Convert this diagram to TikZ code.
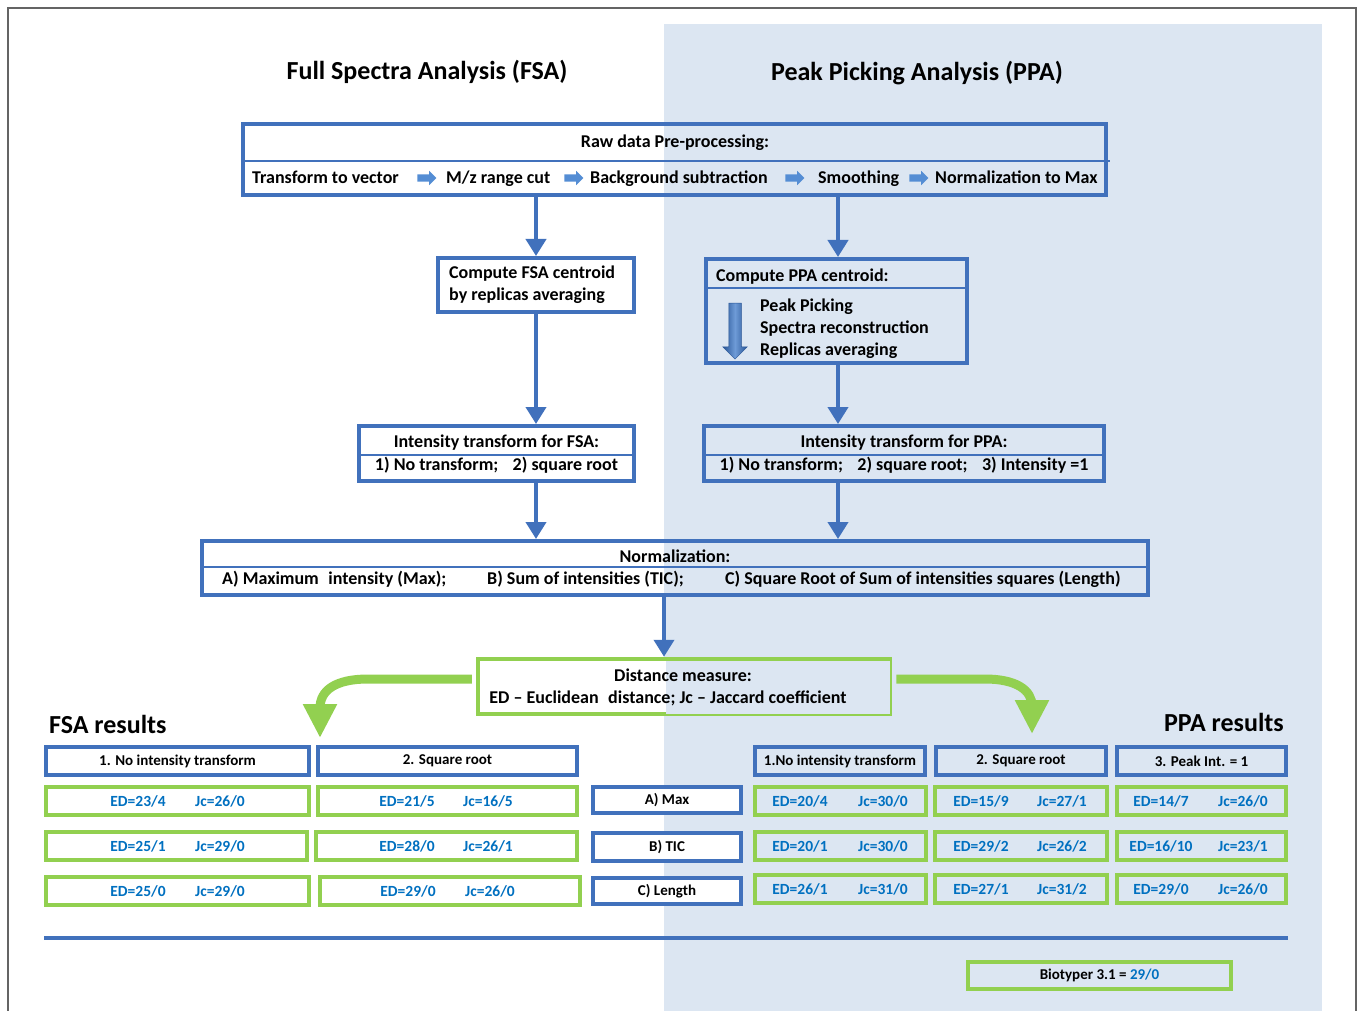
\documentclass[tikz,border=0pt]{standalone}
\usepackage{fontspec}
\setmainfont{Carlito}
\usetikzlibrary{arrows.meta,shapes.arrows,calc}
\definecolor{bxblue}{RGB}{65,113,188}
\definecolor{arblue}{RGB}{84,141,212}
\definecolor{grn}{RGB}{146,208,80}
\definecolor{resblue}{RGB}{0,112,192}
\definecolor{bgblue}{RGB}{220,230,242}
\definecolor{framegray}{RGB}{100,100,100}
\definecolor{darrtop}{RGB}{110,155,215}
\definecolor{darrbot}{RGB}{40,85,150}
\begin{document}
\begin{tikzpicture}[x=1pt,y=-1pt,
  bluebox/.style={draw=bxblue,line width=4pt,inner sep=0},
  whitebox/.style={draw=bxblue,line width=4pt,inner sep=0,fill=white},
  greenbox/.style={draw=grn,line width=4.5pt,inner sep=0},
  hdrbox/.style={draw=bxblue,line width=4.5pt,inner sep=0},
  divline/.style={draw=bxblue,line width=1.5pt},
  conn/.style={draw=bxblue,line width=4pt,-{Triangle[length=17pt,width=20pt]}},
  garr/.style={draw=grn,line width=9pt,-{Triangle[length=34pt,width=32pt]}},
  txt/.style={inner sep=0,font=\fontsize{18}{21}\selectfont\bfseries},
  ttl/.style={inner sep=0,font=\fontsize{26}{30}\selectfont\bfseries},
  hdr/.style={inner sep=0,font=\fontsize{15}{18}\selectfont\bfseries},
  res/.style={inner sep=0,font=\fontsize{15.5}{18}\selectfont\bfseries,text=resblue},
  rarr/.style={single arrow,fill=arblue,inner sep=3.5pt,minimum height=19pt,single arrow head extend=3.5pt,single arrow head indent=0pt}
]
\useasboundingbox (0,0) rectangle (1358,1011);
% background
\fill[bgblue] (664,24) rectangle (1322,1011);
\draw[framegray,line width=1.5pt] (8,1011) -- (8,8) -- (1356,8) -- (1356,1011);

% titles
\node[ttl,anchor=base] (tfsa) at (427,80) {Full Spectra Analysis (FSA)};
\node[ttl,anchor=base] (tppa) at (917,81) {Peak Picking Analysis (PPA)};

% raw data box
\node[bluebox,minimum width=863pt,minimum height=71pt] (raw) at (674.5,159.5) {};
\draw[divline] (243,161) -- (1110,161);
\node[txt,anchor=base] (rawt) at (675,148) {Raw data Pre-processing:};
\node[txt,anchor=base west] (r1) at (252,184) {Transform to vector};
\node[rarr] (a1) at (425,178) {};
\node[txt,anchor=base west] (r2) at (446,184) {M/z range cut};
\node[rarr] (a2) at (572,178) {};
\node[txt,anchor=base west] (r3) at (590,184) {Background subtraction};
\node[rarr] (a3) at (793,178) {};
\node[txt,anchor=base west] (r4) at (818,184) {Smoothing};
\node[rarr] (a4) at (917,178) {};
\node[txt,anchor=base west] (r5) at (935,184) {Normalization to Max};

% centroid boxes
\node[whitebox,minimum width=196pt,minimum height=54pt] (fsac) at (536,285) {};
\node[txt,anchor=base west] (fsac1) at (449,279) {Compute FSA centroid};
\node[txt,anchor=base west] (fsac2) at (449,301) {by replicas averaging};

\node[bluebox,minimum width=261pt,minimum height=104pt] (ppac) at (836.5,311) {};
\draw[divline] (706,288) -- (967,288);
\node[txt,anchor=base west] (ppac0) at (716,281) {Compute PPA centroid:};
\node[txt,anchor=base west] (ppac1) at (760,311) {Peak Picking};
\node[txt,anchor=base west] (ppac2) at (760,333) {Spectra reconstruction};
\node[txt,anchor=base west] (ppac3) at (760,355) {Replicas averaging};
\node[single arrow,shape border rotate=270,inner sep=6pt,minimum height=56pt,
      single arrow head extend=6pt,single arrow head indent=0pt,
      left color=darrbot,right color=darrbot,middle color=darrtop,draw=darrbot,line width=0.5pt] (darr) at (735,328) {};

% intensity boxes
\node[whitebox,minimum width=275pt,minimum height=55pt] (fsai) at (496.5,453.5) {};
\draw[divline] (359,455) -- (634,455);
\node[txt,anchor=base] (fsai1) at (496.5,447) {Intensity transform for FSA:};
\node[txt,anchor=base] (fsai2) at (496.5,470) {1) No transform;\hspace{0.8em}2) square root};

\node[bluebox,minimum width=400pt,minimum height=55pt] (ppai) at (904,453.5) {};
\draw[divline] (704,455) -- (1104,455);
\node[txt,anchor=base] (ppai1) at (904,447) {Intensity transform for PPA:};
\node[txt,anchor=base] (ppai2) at (904,470) {1) No transform;\hspace{0.8em}2) square root;\hspace{0.8em}3) Intensity =1};

% normalization
\node[bluebox,minimum width=946pt,minimum height=54pt] (norm) at (675,568) {};
\fill[white] (202,541) rectangle (664,595);
\draw[bluebox] (202,541) rectangle (1148,595);
\draw[divline] (202,567) -- (1148,567);
\node[txt,anchor=base] (normt) at (675,562) {Normalization:};
\node[txt,anchor=base west] (n1) at (222,584) {A) Maximum\hspace{0.3em} intensity (Max);};
\node[txt,anchor=base west] (n2) at (487,584) {B) Sum of intensities (TIC);};
\node[txt,anchor=base west] (n3) at (725,584) {C) Square Root of Sum of intensities squares (Length)};

% distance
\node[greenbox,fill=white,minimum width=412pt,minimum height=55pt] (dist) at (684,686.5) {};
\fill[bgblue] (666,661) rectangle (889.5,714);
\node[txt,anchor=base] (dist1) at (683,681) {Distance measure:};
\node[txt,anchor=base] (dist2) at (668,703) {ED -- Euclidean\hspace{0.3em} distance; Jc -- Jaccard coefficient};

% connectors
\coordinate (cl) at (536,0);
\coordinate (cr) at (838,0);
\coordinate (cm) at (664,0);
\draw[conn] (raw.south -| cl) -- (fsac.north -| cl);
\draw[conn] (raw.south -| cr) -- (ppac.north -| cr);
\draw[conn] (fsac.south -| cl) -- (fsai.north -| cl);
\draw[conn] (ppac.south -| cr) -- (ppai.north -| cr);
\draw[conn] (fsai.south -| cl) -- (norm.north -| cl);
\draw[conn] (ppai.south -| cr) -- (norm.north -| cr);
\draw[conn] (norm.south -| cm) -- (dist.north -| cm);

% green curved arrows
\coordinate (gl) at (320,738);
\coordinate (gr) at (1032,734);
\draw[garr] ($(dist.west)+(-4,-7.5)$) -- (368,679) .. controls (336,679) and (320,690) .. (320,708) -- (gl);
\draw[garr] ($(dist.east)+(4,-7.5)$) -- (985,679) .. controls (1016,679) and (1032,690) .. (1032,706) -- (gr);

% result titles
\node[ttl,anchor=base west] (fsar) at (49,733) {FSA results};
\node[ttl,anchor=base east] (ppar) at (1284,731) {PPA results};

% FSA table headers
\node[hdrbox,fill=white,minimum width=263pt,minimum height=28pt] (fh1) at (177.5,761) {};
\node[hdrbox,fill=white,minimum width=259pt,minimum height=28pt] (fh2) at (447.5,761) {};
\node[hdr] (fh1t) at (fh1) {1. No intensity transform};
\node[hdr] (fh2t) at (fh2) {2. Square root};

% FSA rows
\node[greenbox,fill=white,minimum width=263pt,minimum height=28pt] (f11) at (177.5,801) {};
\node[greenbox,fill=white,minimum width=259pt,minimum height=28pt] (f12) at (447.5,801) {};
\node[greenbox,fill=white,minimum width=261pt,minimum height=28pt] (f21) at (176.5,846) {};
\node[greenbox,fill=white,minimum width=261pt,minimum height=28pt] (f22) at (446.5,846) {};
\node[greenbox,fill=white,minimum width=263pt,minimum height=28pt] (f31) at (177.5,891) {};
\node[greenbox,fill=white,minimum width=260pt,minimum height=28pt] (f32) at (450,891) {};
\node[res] (f11a) at (138,801) {ED=23/4};
\node[res] (f11b) at (220,801) {Jc=26/0};
\node[res] (f12a) at (407,801) {ED=21/5};
\node[res] (f12b) at (488,801) {Jc=16/5};
\node[res] (f21a) at (138,846) {ED=25/1};
\node[res] (f21b) at (220,846) {Jc=29/0};
\node[res] (f22a) at (407,846) {ED=28/0};
\node[res] (f22b) at (488,846) {Jc=26/1};
\node[res] (f31a) at (138,891) {ED=25/0};
\node[res] (f31b) at (220,891) {Jc=29/0};
\node[res] (f32a) at (408,891) {ED=29/0};
\node[res] (f32b) at (490,891) {Jc=26/0};

% normalization labels
\node[hdrbox,fill=white,minimum width=148pt,minimum height=26pt] (la) at (667,800) {};
\node[hdrbox,fill=white,minimum width=148pt,minimum height=28pt] (lb) at (667,847) {};
\node[hdrbox,fill=white,minimum width=148pt,minimum height=26pt] (lc) at (667,891) {};
\node[hdr] (lat) at (la) {A) Max};
\node[hdr] (lbt) at (lb) {B) TIC};
\node[hdr] (lct) at (lc) {C) Length};

% PPA headers
\node[hdrbox,minimum width=170pt,minimum height=28pt] (ph1) at (840,761) {};
\node[hdrbox,minimum width=170pt,minimum height=28pt] (ph2) at (1021,761) {};
\node[hdrbox,minimum width=169pt,minimum height=28pt] (ph3) at (1201.5,761) {};
\node[hdr] (ph1t) at (ph1) {1.No intensity transform};
\node[hdr] (ph2t) at (ph2) {2. Square root};
\node[hdr] (ph3t) at (ph3) {3. Peak Int. = 1};

% PPA rows
\foreach \r/\y in {1/801,2/846,3/889}{
  \node[greenbox,minimum width=171pt,minimum height=28pt] (p\r1) at (840.5,\y) {};
  \node[greenbox,minimum width=172pt,minimum height=28pt] (p\r2) at (1021,\y) {};
  \node[greenbox,minimum width=169pt,minimum height=28pt] (p\r3) at (1201.5,\y) {};
}
\node[res] (p11a) at (800,801) {ED=20/4};
\node[res] (p11b) at (883,801) {Jc=30/0};
\node[res] (p12a) at (981,801) {ED=15/9};
\node[res] (p12b) at (1062,801) {Jc=27/1};
\node[res] (p13a) at (1161,801) {ED=14/7};
\node[res] (p13b) at (1243,801) {Jc=26/0};
\node[res] (p21a) at (800,846) {ED=20/1};
\node[res] (p21b) at (883,846) {Jc=30/0};
\node[res] (p22a) at (981,846) {ED=29/2};
\node[res] (p22b) at (1062,846) {Jc=26/2};
\node[res] (p23a) at (1161,846) {ED=16/10};
\node[res] (p23b) at (1243,846) {Jc=23/1};
\node[res] (p31a) at (800,889) {ED=26/1};
\node[res] (p31b) at (883,889) {Jc=31/0};
\node[res] (p32a) at (981,889) {ED=27/1};
\node[res] (p32b) at (1062,889) {Jc=31/2};
\node[res] (p33a) at (1161,889) {ED=29/0};
\node[res] (p33b) at (1243,889) {Jc=26/0};

% separator line
\coordinate (sl) at (44,938);
\coordinate (sr) at (1288,938);
\draw[bxblue,line width=4pt] (sl) -- (sr);

% biotyper
\node[greenbox,minimum width=263pt,minimum height=27pt] (bio) at (1099.5,975.5) {};
\node[hdr] (biot) at (bio) {Biotyper 3.1 = \textcolor{resblue}{29/0}};
\end{tikzpicture}
\end{document}
